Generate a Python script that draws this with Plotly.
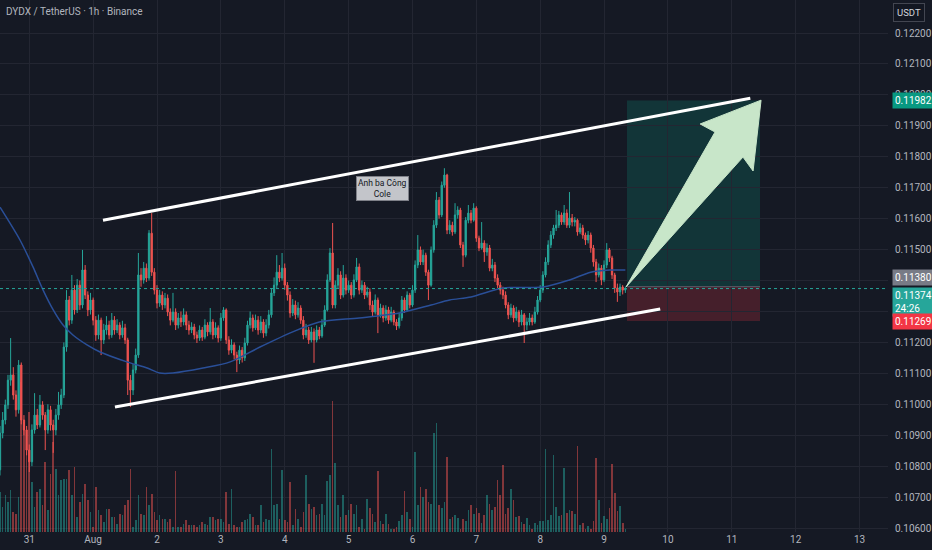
import pandas as pd
import plotly.graph_objects as go

# ---------------- data (DYDX/USDT, 1h, Binance) ----------------
start = pd.Timestamp("2025-07-30 13:00")

opens = [
    0.10788, 0.10907, 0.10949, 0.10998, 0.11078, 0.11095, 0.11030, 0.10982, 0.11127, 0.10949,
    0.10917, 0.10852, 0.10814, 0.10917, 0.10965, 0.10933, 0.10998, 0.10965, 0.10917, 0.10982,
    0.10933, 0.10917, 0.10965, 0.10998, 0.11030, 0.11185, 0.11337, 0.11272, 0.11369, 0.11305,
    0.11385, 0.11321, 0.11434, 0.11353, 0.11305, 0.11337, 0.11272, 0.11224, 0.11272, 0.11208,
    0.11240, 0.11256, 0.11224, 0.11272, 0.11240, 0.11256, 0.11224, 0.11247, 0.11208, 0.11078,
    0.11046, 0.11111, 0.11159, 0.11418, 0.11402, 0.11440, 0.11408, 0.11553, 0.11427, 0.11369,
    0.11327, 0.11353, 0.11321, 0.11343, 0.11298, 0.11272, 0.11298, 0.11256, 0.11279, 0.11266,
    0.11289, 0.11256, 0.11240, 0.11250, 0.11224, 0.11214, 0.11240, 0.11217, 0.11256, 0.11234,
    0.11266, 0.11224, 0.11247, 0.11214, 0.11279, 0.11305, 0.11208, 0.11175, 0.11192, 0.11159,
    0.11143, 0.11175, 0.11150, 0.11198, 0.11256, 0.11279, 0.11247, 0.11272, 0.11240, 0.11266,
    0.11230, 0.11256, 0.11289, 0.11360, 0.11385, 0.11427, 0.11408, 0.11440, 0.11385, 0.11353,
    0.11295, 0.11321, 0.11289, 0.11311, 0.11272, 0.11224, 0.11240, 0.11208, 0.11234, 0.11208,
    0.11240, 0.11221, 0.11256, 0.11305, 0.11402, 0.11489, 0.11321, 0.11385, 0.11418, 0.11353,
    0.11408, 0.11369, 0.11385, 0.11353, 0.11402, 0.11444, 0.11369, 0.11385, 0.11353, 0.11363,
    0.11321, 0.11298, 0.11337, 0.11289, 0.11311, 0.11279, 0.11305, 0.11272, 0.11298, 0.11266,
    0.11253, 0.11279, 0.11337, 0.11305, 0.11353, 0.11321, 0.11369, 0.11450, 0.11499, 0.11460,
    0.11482, 0.11427, 0.11385, 0.11499, 0.11579, 0.11660, 0.11612, 0.11708, 0.11741, 0.11563,
    0.11579, 0.11557, 0.11612, 0.11628, 0.11515, 0.11482, 0.11595, 0.11618, 0.11595, 0.11634,
    0.11537, 0.11505, 0.11521, 0.11492, 0.11505, 0.11440, 0.11450, 0.11408, 0.11385, 0.11369,
    0.11353, 0.11321, 0.11289, 0.11311, 0.11279, 0.11298, 0.11266, 0.11289, 0.11256, 0.11266,
    0.11279, 0.11266, 0.11298, 0.11337, 0.11369, 0.11418, 0.11460, 0.11515, 0.11547, 0.11570,
    0.11579, 0.11612, 0.11589, 0.11618, 0.11579, 0.11602, 0.11589, 0.11595, 0.11557, 0.11570,
    0.11547, 0.11531, 0.11547, 0.11505, 0.11460, 0.11418, 0.11440, 0.11402, 0.11450, 0.11499,
    0.11473, 0.11418, 0.11376, 0.11363, 0.11379, 0.11369,
]

highs = [
    0.10930, 0.10975, 0.11015, 0.11095, 0.11214, 0.11120, 0.11045, 0.11143, 0.11135, 0.10965,
    0.10930, 0.10870, 0.10935, 0.11036, 0.10985, 0.11030, 0.11010, 0.10975, 0.11000, 0.10995,
    0.10950, 0.10985, 0.11040, 0.11050, 0.11200, 0.11369, 0.11350, 0.11418, 0.11385, 0.11405,
    0.11400, 0.11499, 0.11450, 0.11365, 0.11360, 0.11345, 0.11285, 0.11290, 0.11280, 0.11260,
    0.11285, 0.11270, 0.11295, 0.11285, 0.11275, 0.11265, 0.11270, 0.11260, 0.11215, 0.11095,
    0.11130, 0.11180, 0.11489, 0.11440, 0.11460, 0.11455, 0.11563, 0.11618, 0.11440, 0.11385,
    0.11370, 0.11365, 0.11360, 0.11355, 0.11310, 0.11360, 0.11310, 0.11295, 0.11300, 0.11310,
    0.11300, 0.11270, 0.11265, 0.11260, 0.11235, 0.11255, 0.11250, 0.11275, 0.11265, 0.11311,
    0.11275, 0.11265, 0.11255, 0.11295, 0.11314, 0.11310, 0.11220, 0.11210, 0.11200, 0.11170,
    0.11190, 0.11185, 0.11215, 0.11270, 0.11300, 0.11290, 0.11290, 0.11285, 0.11285, 0.11275,
    0.11275, 0.11305, 0.11375, 0.11410, 0.11482, 0.11450, 0.11489, 0.11455, 0.11395, 0.11365,
    0.11340, 0.11335, 0.11330, 0.11320, 0.11285, 0.11260, 0.11250, 0.11250, 0.11245, 0.11255,
    0.11250, 0.11275, 0.11320, 0.11420, 0.11505, 0.11586, 0.11400, 0.11440, 0.11430, 0.11450,
    0.11420, 0.11400, 0.11395, 0.11420, 0.11473, 0.11455, 0.11400, 0.11395, 0.11380, 0.11375,
    0.11335, 0.11355, 0.11345, 0.11325, 0.11320, 0.11320, 0.11315, 0.11315, 0.11305, 0.11275,
    0.11295, 0.11350, 0.11345, 0.11365, 0.11360, 0.11385, 0.11465, 0.11547, 0.11510, 0.11500,
    0.11490, 0.11435, 0.11510, 0.11595, 0.11686, 0.11670, 0.11720, 0.11763, 0.11745, 0.11595,
    0.11590, 0.11650, 0.11640, 0.11635, 0.11525, 0.11605, 0.11644, 0.11628, 0.11650, 0.11640,
    0.11545, 0.11589, 0.11530, 0.11520, 0.11515, 0.11470, 0.11460, 0.11420, 0.11395, 0.11380,
    0.11365, 0.11330, 0.11325, 0.11320, 0.11315, 0.11305, 0.11305, 0.11295, 0.11280, 0.11295,
    0.11290, 0.11315, 0.11350, 0.11385, 0.11430, 0.11475, 0.11530, 0.11560, 0.11580, 0.11628,
    0.11625, 0.11620, 0.11644, 0.11630, 0.11686, 0.11615, 0.11605, 0.11600, 0.11585, 0.11580,
    0.11555, 0.11560, 0.11555, 0.11515, 0.11470, 0.11455, 0.11450, 0.11465, 0.11521, 0.11505,
    0.11480, 0.11425, 0.11390, 0.11390, 0.11385, 0.11380,
]

lows = [
    0.10770, 0.10890, 0.10935, 0.10985, 0.11060, 0.11015, 0.10960, 0.10970, 0.10935, 0.10900,
    0.10835, 0.10781, 0.10800, 0.10905, 0.10920, 0.10925, 0.10950, 0.10852, 0.10905, 0.10915,
    0.10843, 0.10900, 0.10950, 0.10985, 0.11020, 0.11170, 0.11255, 0.11260, 0.11290, 0.11295,
    0.11305, 0.11310, 0.11340, 0.11285, 0.11290, 0.11255, 0.11205, 0.11210, 0.11159, 0.11195,
    0.11225, 0.11210, 0.11215, 0.11225, 0.11230, 0.11210, 0.11215, 0.11195, 0.11030, 0.10991,
    0.11030, 0.11100, 0.11150, 0.11380, 0.11390, 0.11395, 0.11400, 0.11415, 0.11355, 0.11310,
    0.11315, 0.11305, 0.11310, 0.11285, 0.11255, 0.11265, 0.11240, 0.11245, 0.11250, 0.11255,
    0.11240, 0.11225, 0.11230, 0.11210, 0.11198, 0.11205, 0.11205, 0.11210, 0.11220, 0.11225,
    0.11210, 0.11215, 0.11200, 0.11205, 0.11270, 0.11195, 0.11160, 0.11165, 0.11145, 0.11104,
    0.11130, 0.11135, 0.11140, 0.11190, 0.11245, 0.11235, 0.11240, 0.11225, 0.11230, 0.11215,
    0.11220, 0.11245, 0.11280, 0.11350, 0.11375, 0.11395, 0.11400, 0.11370, 0.11335, 0.11280,
    0.11285, 0.11275, 0.11280, 0.11260, 0.11210, 0.11215, 0.11195, 0.11200, 0.11134, 0.11200,
    0.11210, 0.11215, 0.11250, 0.11300, 0.11395, 0.11310, 0.11310, 0.11375, 0.11340, 0.11345,
    0.11355, 0.11360, 0.11340, 0.11345, 0.11395, 0.11355, 0.11360, 0.11340, 0.11345, 0.11305,
    0.11285, 0.11290, 0.11230, 0.11280, 0.11265, 0.11270, 0.11260, 0.11265, 0.11255, 0.11240,
    0.11245, 0.11270, 0.11295, 0.11300, 0.11310, 0.11315, 0.11360, 0.11440, 0.11450, 0.11450,
    0.11415, 0.11337, 0.11380, 0.11490, 0.11570, 0.11600, 0.11605, 0.11700, 0.11550, 0.11550,
    0.11545, 0.11550, 0.11600, 0.11505, 0.11444, 0.11475, 0.11585, 0.11585, 0.11590, 0.11525,
    0.11495, 0.11500, 0.11460, 0.11480, 0.11430, 0.11430, 0.11395, 0.11375, 0.11355, 0.11340,
    0.11310, 0.11275, 0.11280, 0.11265, 0.11270, 0.11250, 0.11255, 0.11198, 0.11240, 0.11255,
    0.11255, 0.11260, 0.11290, 0.11330, 0.11360, 0.11410, 0.11450, 0.11505, 0.11535, 0.11560,
    0.11570, 0.11580, 0.11580, 0.11570, 0.11570, 0.11575, 0.11575, 0.11545, 0.11550, 0.11535,
    0.11515, 0.11520, 0.11490, 0.11445, 0.11395, 0.11410, 0.11385, 0.11395, 0.11440, 0.11460,
    0.11405, 0.11360, 0.11331, 0.11350, 0.11355, 0.11360,
]

closes = [
    0.10907, 0.10949, 0.10998, 0.11078, 0.11095, 0.11030, 0.10982, 0.11127, 0.10949, 0.10917,
    0.10852, 0.10814, 0.10917, 0.10965, 0.10933, 0.10998, 0.10965, 0.10917, 0.10982, 0.10933,
    0.10917, 0.10965, 0.10998, 0.11030, 0.11185, 0.11337, 0.11272, 0.11369, 0.11305, 0.11385,
    0.11321, 0.11434, 0.11353, 0.11305, 0.11337, 0.11272, 0.11224, 0.11272, 0.11208, 0.11240,
    0.11256, 0.11224, 0.11272, 0.11240, 0.11256, 0.11224, 0.11247, 0.11208, 0.11078, 0.11046,
    0.11111, 0.11159, 0.11418, 0.11402, 0.11440, 0.11408, 0.11553, 0.11427, 0.11369, 0.11327,
    0.11353, 0.11321, 0.11343, 0.11298, 0.11272, 0.11298, 0.11256, 0.11279, 0.11266, 0.11289,
    0.11256, 0.11240, 0.11250, 0.11224, 0.11214, 0.11240, 0.11217, 0.11256, 0.11234, 0.11266,
    0.11224, 0.11247, 0.11214, 0.11279, 0.11305, 0.11208, 0.11175, 0.11192, 0.11159, 0.11143,
    0.11175, 0.11150, 0.11198, 0.11256, 0.11279, 0.11247, 0.11272, 0.11240, 0.11266, 0.11230,
    0.11256, 0.11289, 0.11360, 0.11385, 0.11427, 0.11408, 0.11440, 0.11385, 0.11353, 0.11295,
    0.11321, 0.11289, 0.11311, 0.11272, 0.11224, 0.11240, 0.11208, 0.11234, 0.11208, 0.11240,
    0.11221, 0.11256, 0.11305, 0.11402, 0.11489, 0.11321, 0.11385, 0.11418, 0.11353, 0.11408,
    0.11369, 0.11385, 0.11353, 0.11402, 0.11444, 0.11369, 0.11385, 0.11353, 0.11363, 0.11321,
    0.11298, 0.11337, 0.11289, 0.11311, 0.11279, 0.11305, 0.11272, 0.11298, 0.11266, 0.11253,
    0.11279, 0.11337, 0.11305, 0.11353, 0.11321, 0.11369, 0.11450, 0.11499, 0.11460, 0.11482,
    0.11427, 0.11385, 0.11499, 0.11579, 0.11660, 0.11612, 0.11708, 0.11741, 0.11563, 0.11579,
    0.11557, 0.11612, 0.11628, 0.11515, 0.11482, 0.11595, 0.11618, 0.11595, 0.11634, 0.11537,
    0.11505, 0.11521, 0.11492, 0.11505, 0.11440, 0.11450, 0.11408, 0.11385, 0.11369, 0.11353,
    0.11321, 0.11289, 0.11311, 0.11279, 0.11298, 0.11266, 0.11289, 0.11256, 0.11266, 0.11279,
    0.11266, 0.11298, 0.11337, 0.11369, 0.11418, 0.11460, 0.11515, 0.11547, 0.11570, 0.11579,
    0.11612, 0.11589, 0.11618, 0.11579, 0.11602, 0.11589, 0.11595, 0.11557, 0.11570, 0.11547,
    0.11531, 0.11547, 0.11505, 0.11460, 0.11418, 0.11440, 0.11402, 0.11450, 0.11499, 0.11473,
    0.11418, 0.11376, 0.11363, 0.11379, 0.11369, 0.11374,
]

# volume, thousands of DYDX
volumes = [
    400, 250, 370, 300, 420, 200, 180, 350, 1500, 1100,
    900, 1200, 500, 250, 400, 430, 270, 700, 220, 580,
    900, 630, 370, 520, 530, 530, 620, 370, 650, 150,
    300, 380, 480, 320, 200, 50, 450, 220, 170, 100,
    230, 230, 150, 150, 80, 180, 170, 270, 320, 630,
    50, 120, 370, 180, 170, 450, 270, 380, 200, 120,
    170, 130, 130, 100, 130, 50, 610, 50, 50, 80,
    120, 70, 70, 70, 50, 70, 100, 80, 70, 150,
    150, 120, 130, 130, 100, 400, 80, 430, 70, 50,
    50, 100, 120, 130, 180, 150, 70, 70, 270, 100,
    130, 120, 830, 270, 280, 130, 620, 120, 100, 500,
    70, 230, 130, 50, 200, 570, 280, 230, 250, 170,
    180, 280, 170, 510, 570, 1310, 690, 270, 150, 370,
    170, 220, 280, 180, 270, 50, 130, 30, 330, 240,
    180, 100, 610, 110, 80, 180, 80, 30, 30, 50,
    110, 170, 410, 200, 130, 50, 800, 270, 450, 350,
    430, 300, 280, 990, 1090, 270, 240, 300, 750, 130,
    150, 170, 140, 30, 130, 110, 220, 270, 180, 240,
    190, 90, 170, 370, 280, 220, 250, 520, 370, 670,
    180, 240, 430, 320, 150, 160, 100, 80, 140, 70,
    30, 90, 70, 110, 110, 830, 120, 170, 770, 250,
    160, 170, 640, 190, 220, 210, 180, 860, 70, 90,
    30, 60, 30, 110, 740, 320, 90, 160, 130, 240,
    680, 390, 210, 260, 90, 30,
]

# moving-average line (hours after start, value)
ma_hours = [0, 7.5, 12.4, 16.2, 20, 23.7, 27.4, 32.7, 37.6, 47.7, 55.3, 60, 65, 76.3,
            86.5, 97.7, 110, 120, 135, 150, 162, 169, 177, 189, 204, 214, 222, 229, 235]
ma_values = [0.11637, 0.11531, 0.11444, 0.11369, 0.11305, 0.11256, 0.11224, 0.11192,
             0.11169, 0.11137, 0.11117, 0.11101, 0.11101, 0.11117, 0.11137, 0.11185,
             0.11234, 0.11266, 0.11279, 0.11295, 0.11321, 0.11337, 0.11347, 0.11376,
             0.11379, 0.11402, 0.11427, 0.11434, 0.11434]

day_ticks = pd.date_range("2025-07-31", "2025-08-13", freq="D")
day_labels = ["31", "Aug", "2", "3", "4", "5", "6", "7", "8", "9", "10", "11", "12", "13"]
price_ticks = [0.106, 0.107, 0.108, 0.109, 0.110, 0.111, 0.112, 0.113, 0.114,
               0.115, 0.116, 0.117, 0.118, 0.119, 0.120, 0.121, 0.122]

last_price = 0.11374
entry_price = 0.11380
target_price = 0.11982
stop_price = 0.11269

# drawings (time, price anchors)
upper_channel = [("2025-08-01 03:42", 0.11595), ("2025-08-11 06:57", 0.11989)]
lower_channel = [("2025-08-01 08:12", 0.10991), ("2025-08-09 21:06", 0.11308)]
position_span = ("2025-08-09 08:36", "2025-08-11 10:36")
arrow_times = ["2025-08-09 08:15", "2025-08-10 17:42", "2025-08-10 12:06", "2025-08-11 11:00",
               "2025-08-11 08:00", "2025-08-11 04:12", "2025-08-09 08:15"]
arrow_prices = [0.11379, 0.11880, 0.11906, 0.11983, 0.11754, 0.11799, 0.11379]
note_anchor = ("2025-08-05 12:54", 0.11699)

# ---------------- figure ----------------
BG = "#151924"
GRID = "#232632"
UP = "#26a69a"
DOWN = "#ef5350"
TXT = "#b2b5be"
FONT = "Roboto"

times = pd.date_range(start, periods=len(closes), freq="h")
ma_times = [start + pd.Timedelta(hours=h) for h in ma_hours]
vol_colors = ["rgba(38,166,154,0.5)" if c >= o else "rgba(239,83,80,0.5)"
              for o, c in zip(opens, closes)]

fig = go.Figure()

fig.add_trace(go.Bar(
    x=times, y=volumes, marker=dict(color=vol_colors, line=dict(width=0)),
    width=0.62 * 3600 * 1000, yaxis="y", hoverinfo="skip", showlegend=False))

fig.add_trace(go.Candlestick(
    x=times, open=opens, high=highs, low=lows, close=closes, yaxis="y2",
    increasing=dict(line=dict(color=UP, width=1), fillcolor=UP),
    decreasing=dict(line=dict(color=DOWN, width=1), fillcolor=DOWN),
    whiskerwidth=0, showlegend=False))

fig.add_trace(go.Scatter(
    x=ma_times, y=ma_values, yaxis="y2", mode="lines",
    line=dict(color="#2a4f98", width=1.5, shape="spline", smoothing=0.8),
    hoverinfo="skip", showlegend=False))

fig.add_trace(go.Scatter(
    x=pd.to_datetime(arrow_times), y=arrow_prices, yaxis="y2", mode="lines",
    fill="toself", fillcolor="#c8e6c9", line=dict(color="#c8e6c9", width=1),
    hoverinfo="skip", showlegend=False))

x_end = start + pd.Timedelta(hours=333.7)

shapes = [
    dict(type="rect", xref="x", yref="y2", x0=position_span[0], x1=position_span[1],
         y0=entry_price, y1=target_price, fillcolor="rgba(8,153,129,0.22)",
         line=dict(width=0), layer="below"),
    dict(type="rect", xref="x", yref="y2", x0=position_span[0], x1=position_span[1],
         y0=stop_price, y1=entry_price, fillcolor="rgba(242,54,69,0.22)",
         line=dict(width=0), layer="below"),
    dict(type="line", xref="x", yref="y2", x0=position_span[0], x1=position_span[1],
         y0=entry_price, y1=entry_price, line=dict(color="#5d606b", width=1)),
    dict(type="line", xref="paper", yref="y2", x0=0, x1=1, y0=last_price, y1=last_price,
         line=dict(color="#26a69a", width=1, dash="dot")),
    dict(type="line", xref="x", yref="y2", x0=upper_channel[0][0], y0=upper_channel[0][1],
         x1=upper_channel[1][0], y1=upper_channel[1][1], line=dict(color="#ffffff", width=3)),
    dict(type="line", xref="x", yref="y2", x0=lower_channel[0][0], y0=lower_channel[0][1],
         x1=lower_channel[1][0], y1=lower_channel[1][1], line=dict(color="#ffffff", width=3)),
]

annotations = [
    dict(xref="paper", yref="paper", x=0, y=1, xanchor="left", yanchor="top",
         xshift=4, yshift=-4, showarrow=False,
         text="DYDX / TetherUS · 1h · Binance", font=dict(family=FONT, size=10, color=TXT)),
    dict(xref="x", yref="y2", x=note_anchor[0], y=note_anchor[1], showarrow=False,
         text="Anh ba Công<br>Cole", font=dict(family=FONT, size=8.5, color="#131722"),
         bgcolor="#c3c5ca", bordercolor="#7e8088", borderwidth=1, borderpad=1),
    dict(xref="paper", yref="paper", x=1, y=1, xanchor="left", yanchor="top",
         xshift=5, yshift=-3, showarrow=False, text="USDT",
         font=dict(family=FONT, size=9.5, color="#d1d4dc"),
         bgcolor="#131722", bordercolor="#434651", borderwidth=1, borderpad=3),
    dict(xref="paper", yref="y2", x=1, y=target_price, xanchor="left", yanchor="middle",
         xshift=4, showarrow=False, text="0.11982",
         font=dict(family=FONT, size=10, color="#ffffff"), bgcolor="#089981", borderpad=2),
    dict(xref="paper", yref="y2", x=1, y=entry_price, xanchor="left", yanchor="bottom",
         xshift=4, yshift=1, showarrow=False, text="0.11380",
         font=dict(family=FONT, size=10, color="#ffffff"), bgcolor="#787b86", borderpad=2),
    dict(xref="paper", yref="y2", x=1, y=last_price, xanchor="left", yanchor="top",
         xshift=4, yshift=2, showarrow=False, text="0.11374<br>24:26", align="left",
         font=dict(family=FONT, size=10, color="#ffffff"), bgcolor="#26a69a", borderpad=2),
    dict(xref="paper", yref="y2", x=1, y=stop_price, xanchor="left", yanchor="middle",
         xshift=4, showarrow=False, text="0.11269",
         font=dict(family=FONT, size=10, color="#ffffff"), bgcolor="#f23645", borderpad=2),
]

fig.update_layout(
    width=932, height=550,
    margin=dict(l=0, r=44, t=0, b=18),
    paper_bgcolor=BG, plot_bgcolor=BG,
    font=dict(family=FONT, size=10, color=TXT),
    showlegend=False, bargap=0,
    shapes=shapes, annotations=annotations,
    xaxis=dict(
        type="date", range=[start, x_end],
        tickvals=list(day_ticks), ticktext=day_labels,
        showgrid=True, gridcolor=GRID, gridwidth=1,
        zeroline=False, showline=False, ticks="",
        tickfont=dict(family=FONT, size=10, color=TXT),
        rangeslider=dict(visible=False), fixedrange=True),
    yaxis=dict(range=[0, 5320], visible=False, showgrid=False, fixedrange=True),
    yaxis2=dict(
        overlaying="y", side="right", range=[0.105872, 0.123067],
        tickvals=price_ticks, ticktext=[f"{v:.5f}" for v in price_ticks],
        showgrid=True, gridcolor=GRID, gridwidth=1, zeroline=False, showline=False,
        ticks="", ticklabelstandoff=6,
        tickfont=dict(family=FONT, size=10, color=TXT), fixedrange=True),
)

fig.write_html(
    "out.html",
    config={"displayModeBar": False},
    post_script="document.body.style.margin='0';document.body.style.background='#151924';",
)
